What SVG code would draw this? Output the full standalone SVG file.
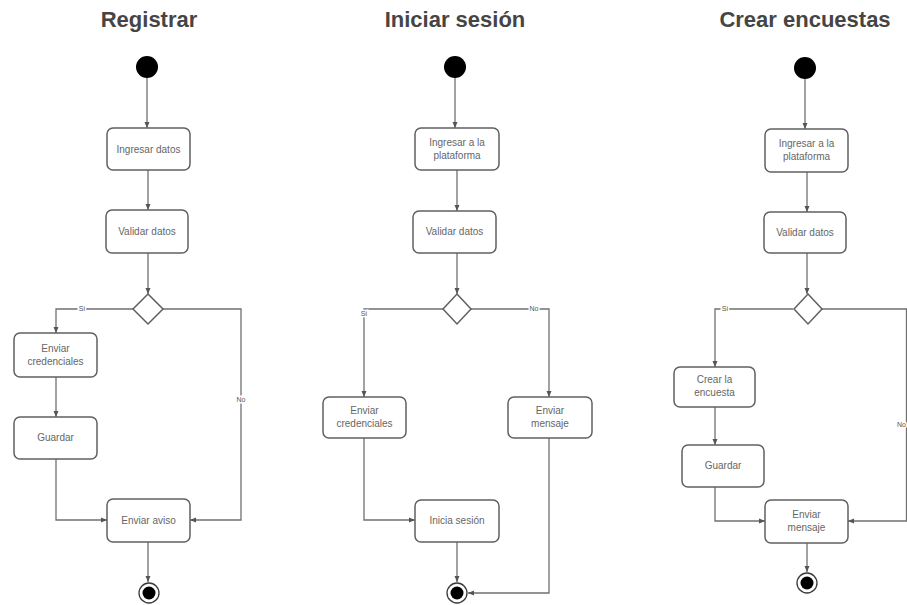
<svg xmlns="http://www.w3.org/2000/svg" width="907" height="605" viewBox="0 0 907 605">
  <style>
    .title { font-family: "Liberation Sans", Arial, sans-serif; font-weight: bold; font-size: 22px; fill: #454545; text-anchor: middle; }
    .node rect { fill: #ffffff; stroke: #606060; stroke-width: 1.5; }
    .node text { font-family: "Liberation Sans", Arial, sans-serif; font-size: 10px; fill: #666666; text-anchor: middle; }
    .diamond { fill: #ffffff; stroke: #606060; stroke-width: 1.5; }
    .start { fill: #000000; }
    .end-ring { fill: #ffffff; stroke: #3a3a3a; stroke-width: 1.3; }
    .end-dot { fill: #000000; }
    .edges path { fill: none; stroke: #707070; stroke-width: 1.3; }
    .edges path.arr { marker-end: url(#arrow); }
    .guard { font-family: "Liberation Sans", Arial, sans-serif; font-size: 7px; fill: #555555; text-anchor: middle; paint-order: stroke; stroke: #ffffff; stroke-width: 3px; }
  </style>
  <defs>
    <marker id="arrow" markerWidth="6" markerHeight="6" refX="6" refY="3" orient="auto" markerUnits="userSpaceOnUse">
      <path d="M0,0.5 L6,3 L0,5.5 z" fill="#555555"/>
    </marker>
  </defs>

  <rect width="907" height="605" fill="#ffffff"/>

  <!-- Titles -->
  <text class="title" x="149" y="27">Registrar</text>
  <text class="title" x="455" y="27">Iniciar sesión</text>
  <text class="title" x="805" y="27">Crear encuestas</text>

  <!-- Connectors -->
  <g class="edges" id="connectors">
    <!-- Registrar -->
    <path class="arr" d="M147,78 V128"/>
    <path class="arr" d="M148,170 V210"/>
    <path class="arr" d="M148,253 V294"/>
    <path class="arr" d="M133,309 H56 V333"/>
    <path class="arr" d="M163,309 H241 V520 H190"/>
    <path class="arr" d="M56,377 V417"/>
    <path class="arr" d="M56,459 V520 H107"/>
    <path class="arr" d="M148,542 V582"/>
    <!-- Iniciar sesión -->
    <path class="arr" d="M455,78 V128"/>
    <path class="arr" d="M457,170 V211"/>
    <path class="arr" d="M457,253 V294"/>
    <path class="arr" d="M443,309 H364 V397"/>
    <path class="arr" d="M471,309 H549 V397"/>
    <path class="arr" d="M364,438 V520 H415"/>
    <path class="arr" d="M457,542 V582"/>
    <path class="arr" d="M549,438 V593 H468"/>
    <!-- Crear encuestas -->
    <path class="arr" d="M805,79 V129"/>
    <path class="arr" d="M807,172 V212"/>
    <path class="arr" d="M807,253 V294"/>
    <path class="arr" d="M793,309 H715 V367"/>
    <path class="arr" d="M715,407 V445"/>
    <path class="arr" d="M715,487 V521 H765"/>
    <path class="arr" d="M822,309 H906.5 V521 H848"/>
    <path class="arr" d="M807,543 V572"/>
  </g>

  <!-- Guard labels -->
  <text class="guard" x="82" y="311">Sí</text>
  <text class="guard" x="241" y="402">No</text>
  <text class="guard" x="364" y="316">Sí</text>
  <text class="guard" x="534" y="311">No</text>
  <text class="guard" x="725" y="311">Sí</text>
  <text class="guard" x="906" y="427" style="text-anchor:end">No</text>

  <!-- Registrar -->
  <g id="reg-start"><circle class="start" cx="147" cy="67" r="11"/></g>
  <g id="reg-ingresar" class="node"><rect x="107" y="128" width="83" height="42" rx="6"/><text x="148.5" y="153">Ingresar datos</text></g>
  <g id="reg-validar" class="node"><rect x="106" y="210" width="82" height="43" rx="6"/><text x="147" y="235">Validar datos</text></g>
  <g id="reg-decision"><polygon class="diamond" points="148,294 163,309 148,324 133,309"/></g>
  <g id="reg-credenciales" class="node"><rect x="14" y="333" width="83" height="44" rx="6"/><text x="55.5" y="352">Enviar</text><text x="55.5" y="365">credenciales</text></g>
  <g id="reg-guardar" class="node"><rect x="14" y="417" width="83" height="42" rx="6"/><text x="55.5" y="441">Guardar</text></g>
  <g id="reg-aviso" class="node"><rect x="107" y="499" width="83" height="43" rx="6"/><text x="148.5" y="524">Enviar aviso</text></g>
  <g id="reg-end"><circle class="end-ring" cx="149" cy="593" r="10"/><circle class="end-dot" cx="149" cy="593" r="6.5"/></g>

  <!-- Iniciar sesión -->
  <g id="ini-start"><circle class="start" cx="455" cy="67" r="11"/></g>
  <g id="ini-ingresar" class="node"><rect x="415" y="128" width="84" height="42" rx="6"/><text x="457" y="146">Ingresar a la</text><text x="457" y="159">plataforma</text></g>
  <g id="ini-validar" class="node"><rect x="413" y="211" width="83" height="42" rx="6"/><text x="454.5" y="235">Validar datos</text></g>
  <g id="ini-decision"><polygon class="diamond" points="457,294 471,309 457,324 443,309"/></g>
  <g id="ini-credenciales" class="node"><rect x="323" y="397" width="83" height="41" rx="6"/><text x="364.5" y="414">Enviar</text><text x="364.5" y="427">credenciales</text></g>
  <g id="ini-mensaje" class="node"><rect x="508" y="397" width="84" height="41" rx="6"/><text x="550" y="414">Enviar</text><text x="550" y="427">mensaje</text></g>
  <g id="ini-sesion" class="node"><rect x="415" y="500" width="84" height="42" rx="6"/><text x="457" y="524">Inicia sesión</text></g>
  <g id="ini-end"><circle class="end-ring" cx="457" cy="593" r="10"/><circle class="end-dot" cx="457" cy="593" r="6.5"/></g>

  <!-- Crear encuestas -->
  <g id="enc-start"><circle class="start" cx="805" cy="68" r="11"/></g>
  <g id="enc-ingresar" class="node"><rect x="765" y="129" width="83" height="43" rx="6"/><text x="806.5" y="147">Ingresar a la</text><text x="806.5" y="160">plataforma</text></g>
  <g id="enc-validar" class="node"><rect x="764" y="212" width="82" height="41" rx="6"/><text x="805" y="236">Validar datos</text></g>
  <g id="enc-decision"><polygon class="diamond" points="808,294 822,309 808,324 794,309"/></g>
  <g id="enc-crear" class="node"><rect x="674" y="367" width="81" height="40" rx="6"/><text x="714.5" y="383">Crear la</text><text x="714.5" y="396">encuesta</text></g>
  <g id="enc-guardar" class="node"><rect x="682" y="445" width="82" height="42" rx="6"/><text x="723" y="469">Guardar</text></g>
  <g id="enc-mensaje" class="node"><rect x="765" y="500" width="83" height="43" rx="6"/><text x="806.5" y="518">Enviar</text><text x="806.5" y="531">mensaje</text></g>
  <g id="enc-end"><circle class="end-ring" cx="807" cy="583" r="10"/><circle class="end-dot" cx="807" cy="583" r="6.5"/></g>
</svg>
